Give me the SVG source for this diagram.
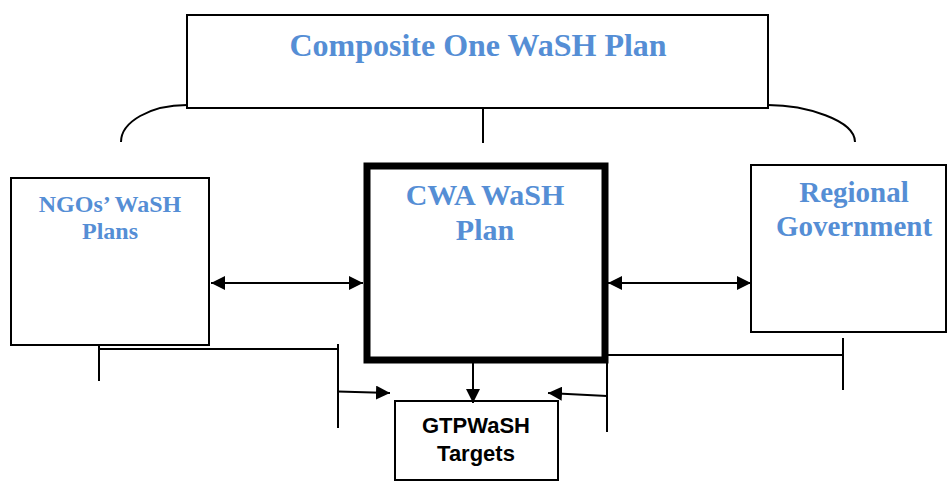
<svg xmlns="http://www.w3.org/2000/svg" width="947" height="481" viewBox="0 0 947 481">
<style>
.box{fill:#fff;stroke:#000;stroke-width:2}
.ln{fill:none;stroke:#000;stroke-width:2}
.t{font-family:"Liberation Serif","Times New Roman",serif;font-weight:bold;fill:#558ED5;text-anchor:middle}
.s{font-family:"Liberation Sans",Arial,sans-serif;font-weight:bold;fill:#000;text-anchor:middle;font-size:22px}
</style>
<defs>
<marker id="ah" markerUnits="userSpaceOnUse" markerWidth="16" markerHeight="14" refX="14" refY="7" orient="auto-start-reverse">
<path d="M0,0 L14,7 L0,14 Z" fill="#000"/>
</marker>
</defs>
<g id="composite">
<rect class="box" x="187" y="15" width="581" height="93"/>
<text class="t" x="478" y="56" font-size="32">Composite One WaSH Plan</text>
</g>
<g id="ngo">
<rect class="box" x="11" y="178" width="198" height="167"/>
<text class="t" x="110" y="212" font-size="24">NGOs’ WaSH</text>
<text class="t" x="110" y="239" font-size="24">Plans</text>
</g>
<g id="cwa">
<rect x="367" y="166" width="238" height="194" fill="#fff" stroke="#000" stroke-width="7"/>
<text class="t" x="485" y="205" font-size="30">CWA WaSH</text>
<text class="t" x="485" y="240" font-size="30">Plan</text>
</g>
<g id="regional">
<rect class="box" x="751" y="165" width="195" height="167"/>
<text class="t" x="854" y="202" font-size="29">Regional</text>
<text class="t" x="854" y="236" font-size="29">Government</text>
</g>
<g id="gtp">
<rect class="box" x="395" y="401" width="163" height="79"/>
<text class="s" x="476" y="433">GTPWaSH</text>
<text class="s" x="476" y="461">Targets</text>
</g>
<g id="connectors">
<path class="ln" d="M187,105 C150,105 121,122 121,142"/>
<path class="ln" d="M768,105 C805,105 855,120 855,142"/>
<path class="ln" d="M483,108 V143"/>
<path class="ln" d="M211,283 H363" marker-start="url(#ah)" marker-end="url(#ah)"/>
<path class="ln" d="M608,283 H751" marker-start="url(#ah)" marker-end="url(#ah)"/>
<path class="ln" d="M99,345 V381 M99,349 H338 M338,344 V428"/>
<path class="ln" d="M338,391.5 L390,393" marker-end="url(#ah)"/>
<path class="ln" d="M473,363 V403" marker-end="url(#ah)"/>
<path class="ln" d="M608,355 H843 M843,338 V390 M607,363 V432"/>
<path class="ln" d="M607,396 L548,393" marker-end="url(#ah)"/>
</g>
</svg>
